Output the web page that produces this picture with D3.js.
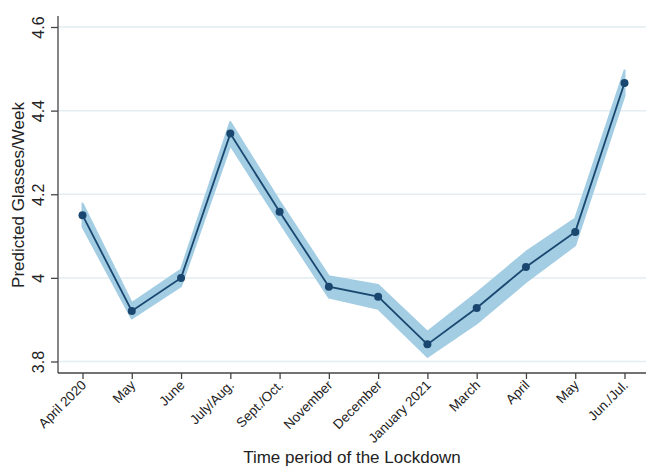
<!DOCTYPE html>
<html>
<head>
<meta charset="utf-8">
<script src="https://cdn.jsdelivr.net/npm/d3@7"></script>
<style>
  html, body { margin: 0; padding: 0; background: #fff; }
  svg { display: block; font-family: "Liberation Sans", Arial, sans-serif; }
</style>
</head>
<body>
<svg id="chart" width="646" height="468"></svg>
<script>
// Predicted glasses per week over the lockdown, with 95% confidence band
const periods = ["April 2020", "May", "June", "July/Aug.", "Sept./Oct.", "November",
                 "December", "January 2021", "March", "April", "May", "Jun./Jul."];
const predicted = [4.150, 3.921, 4.000, 4.345, 4.158, 3.979, 3.955, 3.841, 3.928, 4.026, 4.110, 4.466];
const lower     = [4.122, 3.903, 3.980, 4.317, 4.133, 3.953, 3.926, 3.811, 3.891, 3.990, 4.078, 4.436];
const upper     = [4.178, 3.940, 4.020, 4.373, 4.183, 4.004, 3.983, 3.871, 3.964, 4.062, 4.142, 4.496];
const yTicks = [3.8, 4, 4.2, 4.4, 4.6];

const svg = d3.select("#chart");
const plot = { left: 58, right: 646, top: 16, bottom: 373 };

const x = d3.scaleLinear().domain([0, periods.length - 1]).range([82.5, 624.5]);
const y = d3.scaleLinear().domain([3.8, 4.6]).range([361.5, 27]);

const navy = "#1a476f";

// horizontal grid
svg.append("g")
  .selectAll("line")
  .data(yTicks)
  .join("line")
  .attr("x1", plot.left + 1).attr("x2", plot.right)
  .attr("y1", d => y(d)).attr("y2", d => y(d))
  .attr("stroke", "#e3edf2")
  .attr("stroke-width", 1.5);

// confidence band
const idx = d3.range(periods.length);
svg.append("path")
  .datum(idx)
  .attr("d", d3.area().x(i => x(i)).y0(i => y(lower[i])).y1(i => y(upper[i])))
  .attr("fill", "#a3cde3")
  .attr("stroke", "#a3cde3")
  .attr("stroke-width", 2)
  .attr("stroke-linejoin", "round");

// predicted line
svg.append("path")
  .datum(idx)
  .attr("d", d3.line().x(i => x(i)).y(i => y(predicted[i])))
  .attr("fill", "none")
  .attr("stroke", navy)
  .attr("stroke-width", 1.8);

// points
svg.append("g")
  .selectAll("circle")
  .data(idx)
  .join("circle")
  .attr("cx", i => x(i))
  .attr("cy", i => y(predicted[i]))
  .attr("r", 4)
  .attr("fill", navy);

// y axis
const yAxis = svg.append("g")
  .attr("transform", `translate(${plot.left},0)`)
  .call(d3.axisLeft(y).tickValues(yTicks).tickSize(7).tickFormat(d3.format("~g")));
yAxis.select(".domain").attr("d", `M0,${plot.top}V${plot.bottom}`);
yAxis.selectAll("line, path").attr("stroke", "#444").attr("stroke-width", 1.3);
yAxis.selectAll("text")
  .attr("font-size", 16)
  .attr("fill", "#222")
  .attr("x", 0).attr("dy", 0)
  .attr("text-anchor", "middle")
  .attr("transform", "translate(-14,0) rotate(-90)");

// x axis
const xAxis = svg.append("g")
  .attr("transform", `translate(0,${plot.bottom})`)
  .call(d3.axisBottom(x).tickValues(idx).tickSize(6).tickFormat(i => periods[i]));
xAxis.select(".domain").attr("d", `M${plot.left},0H${plot.right}`);
xAxis.selectAll("line, path").attr("stroke", "#444").attr("stroke-width", 1.3);
xAxis.selectAll("text")
  .attr("font-size", 13.5)
  .attr("fill", "#222")
  .attr("y", 0).attr("dy", 0)
  .attr("text-anchor", "end")
  .attr("transform", "translate(4,13) rotate(-45)");

// axis titles
svg.append("text")
  .attr("x", 352).attr("y", 463)
  .attr("text-anchor", "middle")
  .attr("font-size", 17)
  .attr("fill", "#222")
  .text("Time period of the Lockdown");

svg.append("text")
  .attr("transform", "translate(24,195) rotate(-90)")
  .attr("text-anchor", "middle")
  .attr("font-size", 17)
  .attr("fill", "#222")
  .text("Predicted Glasses/Week");
</script>
</body>
</html>
